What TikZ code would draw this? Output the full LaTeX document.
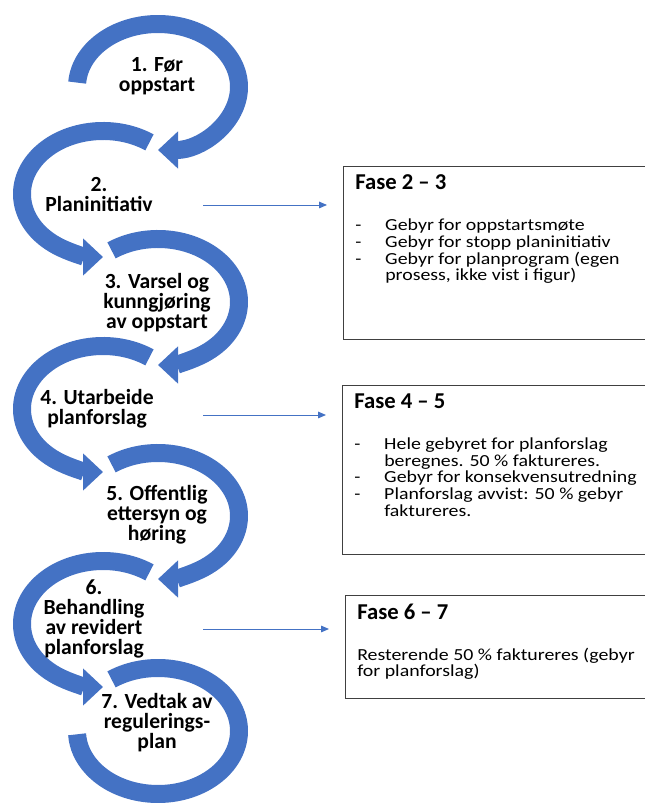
\documentclass[tikz,border=0pt]{standalone}
\usepackage{fontspec}
\usepackage{graphicx}
\setmainfont{Carlito}
\usetikzlibrary{arrows.meta,positioning}
\definecolor{planblue}{RGB}{68,114,196}
\definecolor{boxline}{RGB}{64,64,64}
\newcommand{\titlef}{\bfseries\fontsize{17}{18}\selectfont}
\newcommand{\sq}[1]{\scalebox{1}[.85]{#1}}
\newcommand{\dashitem}{\makebox[22.5pt][l]{-}}
\newcommand{\contline}{\hspace*{22.5pt}}
\tikzset{
  band/.style={draw=planblue, line width=13.5pt},
  bandarrow/.style={band, -{Triangle[length=15pt,width=27pt]}},
  fase/.style={font=\bfseries\fontsize{16.2}{15}\selectfont, align=center},
  link/.style={draw=planblue, line width=.7pt, -{Triangle[length=6pt,width=5pt]}, shorten >=12pt},
  infobox/.style={draw=boxline, line width=.9pt, anchor=north west, minimum width=250pt},
  infotext/.style={font=\fontsize{14.9}{12.6}\selectfont, align=left, anchor=north west, inner sep=0pt},
}
\begin{document}
\begin{tikzpicture}[x=.75pt,y=.75pt]
\useasboundingbox (0,0) rectangle (645,807);
\clip (0,0) rectangle (645,807);
% centres of the seven steps
\foreach \n/\cx/\cy in {1/158/720,2/103/613,3/158/505,4/103/398,5/158/291,6/103/183,7/158/76}
  \coordinate (c\n) at (\cx,\cy);
% odd steps turn clockwise
\foreach \n/\a in {1/176,3/125,5/125}
  \draw[bandarrow] (c\n) ++(\a:81 and 63) arc[start angle=\a,end angle=-90,x radius=81,y radius=63];
% even steps turn the other way
\foreach \n in {2,4,6}
  \draw[bandarrow] (c\n) ++(55:81 and 63) arc[start angle=55,end angle=270,x radius=81,y radius=63];
\draw[band] (c7) ++(125:81 and 63) arc[start angle=125,end angle=-177,x radius=81,y radius=63];
% step labels
\node[fase] (s1) at (157,731) {1. Før\\oppstart};
\node[fase] (s2) at (99,612) {2.\\Planinitiativ};
\node[fase] (s3) at (157,504) {3. Varsel og\\kunngjøring\\av oppstart};
\node[fase] (s4) at (97,398) {4. Utarbeide\\planforslag};
\node[fase] (s5) at (157,292) {5. Offentlig\\ettersyn og\\høring};
\node[fase] (s6) at (94,188) {6.\\Behandling\\av revidert\\planforslag};
\node[fase] (s7) at (157,84) {7. Vedtak av\\regulerings-\\plan};
% boxes on the right
\node[infobox, minimum height=129.75pt] (b23) at (343,641) {};
\node[infobox, minimum height=126.75pt] (b45) at (342,422) {};
\node[infobox, minimum height=77.25pt] (b67) at (345,212) {};
\node[infotext] (t23) at ([shift={(9pt,-6.4pt)}]b23.north west) {{\titlef Fase 2 – 3}\\[18pt]
  \sq{\dashitem Gebyr for oppstartsmøte}\\
  \sq{\dashitem Gebyr for stopp planinitiativ}\\
  \sq{\dashitem Gebyr for planprogram (egen}\\
  \sq{\contline prosess, ikke vist i figur)}};
\node[infotext] (t45) at ([shift={(9pt,-6.4pt)}]b45.north west) {{\titlef Fase 4 – 5}\\[18pt]
  \sq{\dashitem Hele gebyret for planforslag}\\
  \sq{\contline beregnes. 50 \% faktureres.}\\
  \sq{\dashitem Gebyr for konsekvensutredning}\\
  \sq{\dashitem Planforslag avvist: 50 \% gebyr}\\
  \sq{\contline faktureres.}};
\node[infotext] (t67) at ([shift={(9pt,-6.4pt)}]b67.north west) {{\titlef Fase 6 – 7}\\[18pt]
  \sq{Resterende 50 \% faktureres (gebyr}\\
  \sq{for planforslag)}};
% arrows to the boxes
\coordinate (a23) at (203,602);
\coordinate (a45) at (203,392);
\coordinate (a67) at (203,178);
\draw[link] (a23) -- (a23 -| b23.west);
\draw[link] (a45) -- (a45 -| b45.west);
\draw[link] (a67) -- (a67 -| b67.west);
\end{tikzpicture}
\end{document}
